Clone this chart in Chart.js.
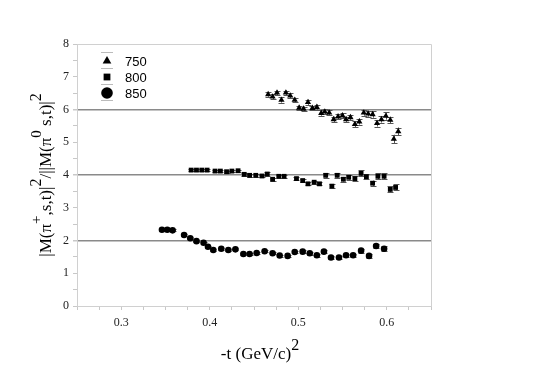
<!DOCTYPE html>
<html>
<head>
<meta charset="utf-8">
<script src="https://cdn.jsdelivr.net/npm/chart.js@4/dist/chart.umd.min.js"></script>
<style>
  html, body { margin: 0; padding: 0; background: #fff; }
  #wrap { width: 545px; height: 377px; }
</style>
</head>
<body>
<div id="wrap"><canvas id="c"></canvas></div>
<script>
// -t values and ratio for each beam momentum.
const t750 = [0.466, 0.471, 0.476, 0.481, 0.486, 0.491, 0.496, 0.501, 0.506, 0.511,
  0.516, 0.521, 0.526, 0.530, 0.535, 0.540, 0.545, 0.550, 0.554, 0.559,
  0.564, 0.569, 0.574, 0.579, 0.584, 0.589, 0.594, 0.599, 0.604, 0.608, 0.613];
const r750 = [6.46, 6.39, 6.51, 6.29, 6.51, 6.42, 6.29, 6.05, 6.02, 6.22,
  6.04, 6.07, 5.89, 5.93, 5.90, 5.70, 5.78, 5.81, 5.70, 5.76,
  5.55, 5.63, 5.90, 5.87, 5.85, 5.58, 5.70, 5.80, 5.68, 5.10, 5.33];
const e750 = [0.07, 0.07, 0.07, 0.08, 0.07, 0.07, 0.07, 0.07, 0.07, 0.08,
  0.07, 0.08, 0.08, 0.08, 0.07, 0.08, 0.08, 0.08, 0.08, 0.08,
  0.09, 0.09, 0.09, 0.09, 0.10, 0.10, 0.10, 0.11, 0.10, 0.13, 0.12];

const t800 = [0.379, 0.385, 0.391, 0.397, 0.406, 0.412, 0.419, 0.425, 0.432, 0.439,
  0.445, 0.452, 0.459, 0.465, 0.471, 0.478, 0.484, 0.498, 0.505, 0.511,
  0.518, 0.524, 0.531, 0.538, 0.544, 0.551, 0.557, 0.564, 0.571, 0.577,
  0.584, 0.590, 0.597, 0.604, 0.610];
const r800 = [4.15, 4.15, 4.15, 4.15, 4.12, 4.12, 4.10, 4.12, 4.13, 4.02,
  3.99, 3.99, 3.97, 4.03, 3.87, 3.96, 3.96, 3.89, 3.83, 3.73,
  3.78, 3.73, 3.99, 3.66, 3.99, 3.87, 3.93, 3.89, 4.05, 3.95,
  3.75, 3.96, 3.96, 3.56, 3.62];
const e800 = [0.03, 0.03, 0.03, 0.03, 0.03, 0.03, 0.03, 0.03, 0.03, 0.04,
  0.04, 0.04, 0.04, 0.05, 0.05, 0.05, 0.05, 0.05, 0.05, 0.05,
  0.05, 0.05, 0.07, 0.06, 0.07, 0.07, 0.07, 0.07, 0.09, 0.08,
  0.08, 0.09, 0.09, 0.09, 0.09];

const t850 = [0.346, 0.352, 0.358, 0.371, 0.378, 0.385, 0.393, 0.398, 0.404, 0.413,
  0.421, 0.429, 0.438, 0.445, 0.453, 0.462, 0.471, 0.479, 0.488, 0.496,
  0.505, 0.513, 0.521, 0.529, 0.537, 0.546, 0.554, 0.562, 0.571, 0.580,
  0.588, 0.597];
const r850 = [2.33, 2.33, 2.31, 2.17, 2.07, 1.98, 1.93, 1.81, 1.71, 1.75,
  1.71, 1.73, 1.59, 1.59, 1.62, 1.67, 1.61, 1.54, 1.53, 1.65,
  1.66, 1.61, 1.55, 1.66, 1.48, 1.48, 1.55, 1.55, 1.69, 1.53,
  1.83, 1.75];
const e850 = [0.03, 0.03, 0.03, 0.03, 0.03, 0.03, 0.03, 0.03, 0.03, 0.03,
  0.03, 0.03, 0.03, 0.03, 0.03, 0.03, 0.03, 0.03, 0.03, 0.04,
  0.04, 0.04, 0.04, 0.04, 0.04, 0.04, 0.04, 0.05, 0.06, 0.06,
  0.07, 0.08];

const seriesLabels = ["750", "800", "850"];
const refLines = [2, 4, 6];

const SERIF = "'Liberation Serif', 'Times New Roman', serif";
const SANS = "'Liberation Sans', Arial, sans-serif";

function pts(xs, ys, es) {
  return xs.map((x, i) => ({ x: x, y: ys[i], err: es[i] }));
}

const base = { showLine: false, borderColor: "#000", backgroundColor: "#000", borderWidth: 0 };

// error bars, drawn from the data through the scales
const errorBars = {
  id: "errorBars",
  beforeDatasetsDraw(chart) {
    const ctx = chart.ctx;
    const xs = chart.scales.x, ys = chart.scales.y;
    ctx.save();
    ctx.strokeStyle = "#555";
    ctx.lineWidth = 1;
    chart.data.datasets.forEach((ds) => {
      ds.data.forEach((p) => {
        const px = Math.round(xs.getPixelForValue(p.x)) + 0.5;
        const y1 = ys.getPixelForValue(p.y + p.err);
        const y2 = ys.getPixelForValue(p.y - p.err);
        ctx.beginPath();
        ctx.moveTo(px, y1); ctx.lineTo(px, y2);
        ctx.moveTo(px - 3, Math.round(y1) + 0.5); ctx.lineTo(px + 3, Math.round(y1) + 0.5);
        ctx.moveTo(px - 3, Math.round(y2) + 0.5); ctx.lineTo(px + 3, Math.round(y2) + 0.5);
        ctx.stroke();
      });
    });
    ctx.restore();
  },
};

// frame, titles with superscripts, legend
const decor = {
  id: "decor",
  afterDraw(chart) {
    const ctx = chart.ctx;
    const a = chart.chartArea;
    ctx.save();
    ctx.strokeStyle = "#d0d0d0";
    ctx.lineWidth = 1;
    ctx.beginPath();
    ctx.moveTo(Math.round(a.left) + 0.5, Math.round(a.top) + 0.5);
    ctx.lineTo(Math.round(a.right) + 0.5, Math.round(a.top) + 0.5);
    ctx.lineTo(Math.round(a.right) + 0.5, Math.round(a.bottom) + 0.5);
    ctx.stroke();

    ctx.fillStyle = "#000";
    ctx.textBaseline = "alphabetic";

    // x title: -t (GeV/c)^2
    const xParts = [["-t (GeV/c)", 0, 17], ["2", -9, 16]];
    drawParts(ctx, xParts, (a.left + a.right) / 2 + 6, 359);

    // y title, rotated
    ctx.save();
    ctx.translate(51, (a.top + a.bottom) / 2);
    ctx.rotate(-Math.PI / 2);
    const yParts = [["|M(\u03c0", 0, 17], ["+", -10, 15], [",s,t)|", 0, 17], ["2", -10, 16],
      ["/||M(\u03c0", 0, 17], ["0", -10, 15], [" s,t)|", 0, 17], ["2", -10, 16]];
    drawParts(ctx, yParts, 0, 0);
    ctx.restore();

    // legend
    ctx.font = "13px " + SANS;
    ctx.textAlign = "left";
    ctx.textBaseline = "middle";
    const rows = [61, 77, 93];
    chart.data.datasets.forEach((ds, i) => {
      const lx = 107, ly = rows[i];
      ctx.strokeStyle = "#bbb";
      ctx.beginPath();
      ctx.moveTo(lx - 6, ly - 8.5); ctx.lineTo(lx + 6, ly - 8.5);
      ctx.moveTo(lx - 6, ly + 7.5); ctx.lineTo(lx + 6, ly + 7.5);
      ctx.stroke();
      ctx.fillStyle = "#000";
      Chart.helpers.drawPoint(ctx, {
        pointStyle: ds.pointStyle, radius: ds.legendRadius, rotation: 0, borderWidth: 0,
      }, lx, ly);
      ctx.fillText(seriesLabels[i], 125, ly + 1);
    });
    ctx.restore();
  },
};

function drawParts(ctx, parts, cx, baseY) {
  let w = 0;
  parts.forEach((p) => { ctx.font = p[2] + "px " + SERIF; w += ctx.measureText(p[0]).width; });
  let x = cx - w / 2;
  ctx.textAlign = "left";
  parts.forEach((p) => {
    ctx.font = p[2] + "px " + SERIF;
    ctx.fillText(p[0], x, baseY + p[1]);
    x += ctx.measureText(p[0]).width;
  });
}

new Chart(document.getElementById("c"), {
  type: "scatter",
  data: {
    datasets: [
      Object.assign({}, base, { label: seriesLabels[0], data: pts(t750, r750, e750),
        pointStyle: "triangle", pointRadius: 3.6, legendRadius: 5 }),
      Object.assign({}, base, { label: seriesLabels[1], data: pts(t800, r800, e800),
        pointStyle: "rect", pointRadius: 3.4, legendRadius: 4.8 }),
      Object.assign({}, base, { label: seriesLabels[2], data: pts(t850, r850, e850),
        pointStyle: "circle", pointRadius: 3.3, legendRadius: 5.8 }),
    ],
  },
  options: {
    responsive: true,
    maintainAspectRatio: false,
    animation: false,
    events: [],
    layout: { padding: { left: 0, top: 44, right: 114, bottom: 0 } },
    plugins: { legend: { display: false }, tooltip: { enabled: false } },
    scales: {
      x: {
        type: "linear",
        min: 0.25,
        max: 0.65,
        border: { color: "#d0d0d0" },
        grid: { drawOnChartArea: false, tickLength: 4, tickColor: "#c8c8c8" },
        ticks: {
          stepSize: 0.025,
          autoSkip: false,
          maxRotation: 0,
          padding: 6,
          color: "#222",
          font: { family: SERIF, size: 12 },
          callback: (v) => {
            const k = Math.round(v * 1000);
            return k % 100 === 0 && k >= 300 ? (k / 1000).toFixed(1) : "";
          },
        },
        afterFit: (s) => { s.height = 71; },
      },
      y: {
        type: "linear",
        min: 0,
        max: 8,
        border: { color: "#d0d0d0" },
        grid: {
          drawOnChartArea: true,
          tickLength: 4,
          tickColor: "#c8c8c8",
          color: (c) => (c.tick && refLines.includes(c.tick.value) ? "#8a8a8a" : "rgba(0,0,0,0)"),
          lineWidth: (c) => (c.tick && refLines.includes(c.tick.value) ? 1.5 : 1),
        },
        ticks: {
          stepSize: 0.5,
          autoSkip: false,
          padding: 4,
          color: "#222",
          font: { family: SERIF, size: 12 },
          callback: (v) => (Number.isInteger(v) ? String(v) : ""),
        },
        afterFit: (s) => { s.width = 77; },
      },
    },
  },
  plugins: [errorBars, decor],
});
</script>
</body>
</html>
